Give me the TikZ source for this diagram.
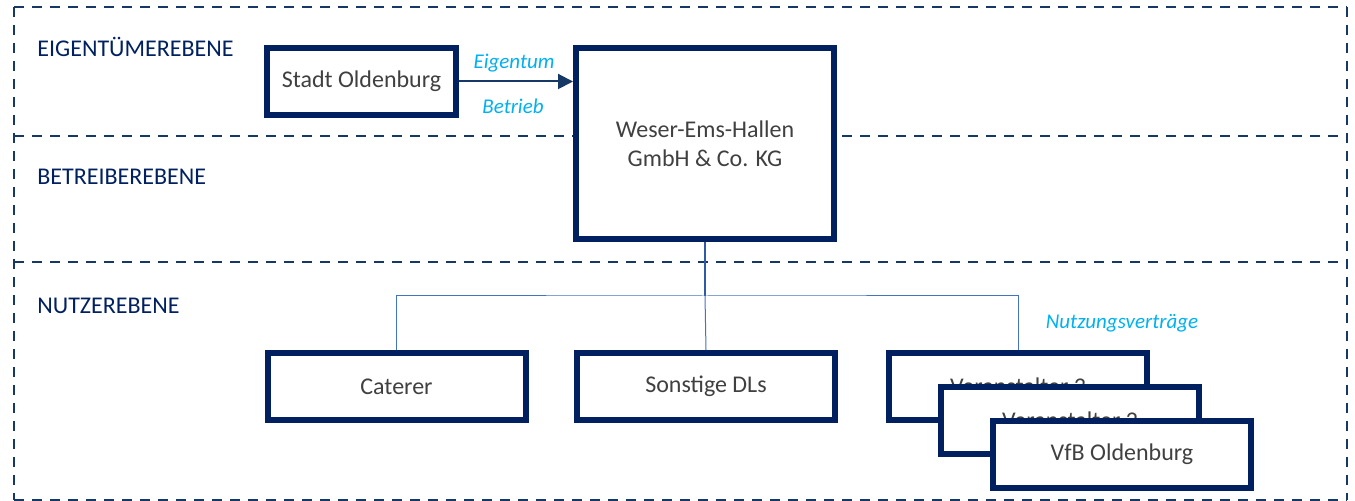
\documentclass[tikz,border=0pt]{standalone}
\usepackage{fontspec}
\setmainfont{Carlito}
\usepackage{tikz}
\usetikzlibrary{calc, positioning, arrows.meta}
\usepackage{xcolor}
\definecolor{navy}{RGB}{0, 32, 96}
\definecolor{frameblue}{RGB}{22, 56, 100}
\definecolor{linkblue}{RGB}{68, 114, 196}
\definecolor{flowcyan}{RGB}{0, 176, 240}
\definecolor{textgrey}{RGB}{64, 64, 64}

\begin{document}
\begin{tikzpicture}[x=0.5pt, y=-0.5pt, font=\fontsize{12}{14.5}\selectfont,
  unit/.style={draw=navy, line width=3pt, fill=white, text=textgrey, align=center,
    minimum width=129pt, minimum height=33.5pt, inner sep=0pt},
  level/.style={anchor=west, inner sep=0pt, text=navy, font=\fontsize{12}{14}\selectfont},
  flow/.style={text=flowcyan, font=\fontsize{10.5}{12}\selectfont\itshape},
  link/.style={linkblue, line width=0.5pt},
  frame/.style={frameblue, line width=1.3pt, dash pattern=on 5pt off 4pt}]
  \useasboundingbox (0,0) rectangle (1355,501);

  % Ebenen
  \foreach \y in {7, 136, 262, 500}
    \draw[frame] (14,\y) -- (1347,\y);
  \foreach \x in {14, 1347}
    \draw[frame] (\x,7) -- (\x,500);
  \node[level] (eigen) at (37,46.5) {EIGENTÜMEREBENE};
  \node[level] (betr) at (37,177) {BETREIBEREBENE};
  \node[level] (nutz) at (37,306) {NUTZEREBENE};

  % Eigentuemer und Betreiber
  \node[unit, minimum width=94.5pt] (stadt) at (361.5,81.5) {Stadt Oldenburg};
  \node[unit, minimum height=95.5pt] (weh) at (705,143.5) {Weser-Ems-Hallen\\GmbH \& Co. KG};
  \draw[frameblue, line width=1pt, -{Triangle[length=7.5pt, width=7.5pt]}] (stadt.east) -- (stadt.east -| weh.west);
  \node[flow] (eig) at (514,63) {Eigentum};
  \node[flow] (bet) at (513,106) {Betrieb};

  % Nutzer
  \node[unit] (cat) at (396.5,386.5) {Caterer};
  \node[unit] (dls) at (706,386.5) {Sonstige DLs};
  \node[unit] (va3) at (1018,386.5) {Veranstalter 3};
  \node[unit] (va2) at ($(va3)+(52,34)$) {Veranstalter 2};
  \node[unit] (vfb) at ($(va2)+(52,34)$) {VfB Oldenburg};
  \node[flow] (nv) at (1122,323) {Nutzungsverträge};

  \coordinate (hub) at (705,296);
  \draw[link, line width=0.7pt, linkblue!70!navy] (weh.south) -- (hub);
  \draw[link] (cat.north) |- (hub) -| (va3.north);
  \draw[link] (hub) -- (dls.north);
\end{tikzpicture}
\end{document}
